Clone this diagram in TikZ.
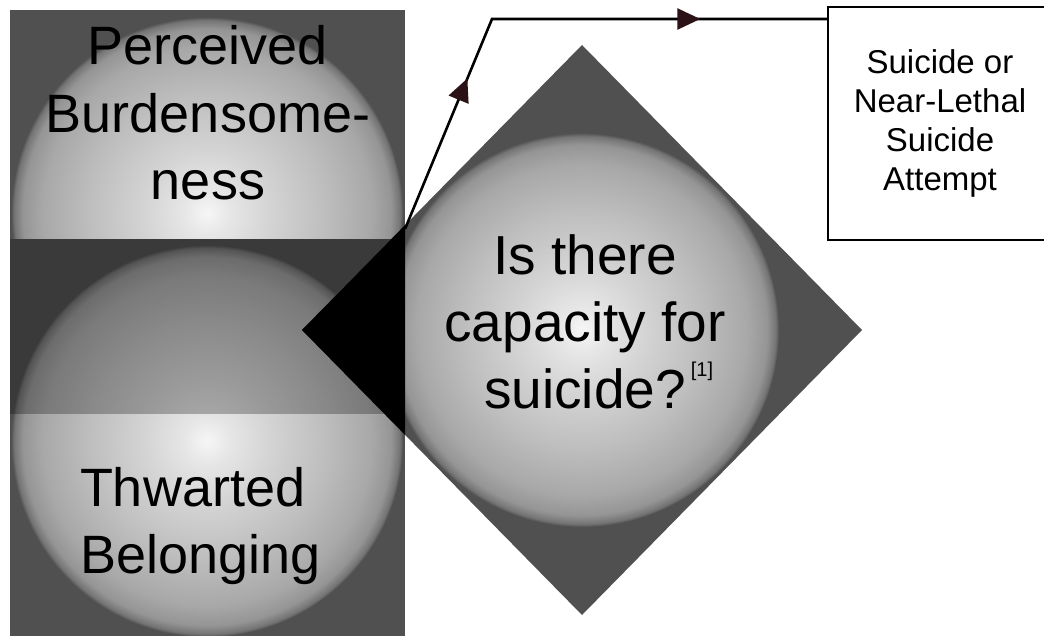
\documentclass[tikz,border=0pt]{standalone}
\usepackage{fontspec}
\setmainfont{Liberation Sans}
\usetikzlibrary{shapes.geometric,decorations.markings,arrows.meta}
\definecolor{dgray}{HTML}{505050}
\definecolor{sa}{HTML}{F6F6F6}
\definecolor{sb}{HTML}{E6E6E6}
\definecolor{sc}{HTML}{D4D4D4}
\definecolor{sd}{HTML}{BEBEBE}
\definecolor{se}{HTML}{A8A8A8}
\definecolor{sf}{HTML}{959595}
\definecolor{sg}{HTML}{747474}
\definecolor{tipcol}{HTML}{2A1216}
\pgfdeclareradialshading{ball}{\pgfpoint{0bp}{0bp}}{color(0bp)=(sa); color(3bp)=(sb); color(8bp)=(sc); color(15bp)=(sd); color(21bp)=(se); color(23.5bp)=(sf); color(24.6bp)=(sg); color(25bp)=(dgray); color(50bp)=(dgray)}
\tikzset{
  panel/.style={fill=dgray, draw=none},
  sphere/.style={shading=ball},
  bigtext/.style={font=\fontsize{54}{67.5}\selectfont, inner sep=0pt, outer sep=0pt},
  qtext/.style={font=\fontsize{55}{67}\selectfont, inner sep=0pt, align=center},
  outbox/.style={draw=black, line width=2.5pt, fill=white, minimum width=224pt, minimum height=233pt, inner sep=0pt, align=center, font=\fontsize{33}{39}\selectfont},
  flow/.style={line width=2.6pt, line join=miter,
    postaction={decorate, decoration={markings,
      mark=at position 0.29 with {\arrow{Triangle[length=23pt,width=21pt,fill=tipcol,color=tipcol]}},
      mark=at position 0.775 with {\arrow{Triangle[length=23pt,width=21pt,fill=tipcol,color=tipcol]}}}}}
}
\begin{document}
\begin{tikzpicture}[x=1pt,y=-1pt]
\useasboundingbox (0,0) rectangle (1044,636);
% top panel
\fill[panel] (10,10) rectangle (405,414);
\begin{scope}
\clip (10,10) rectangle (405,414);
\shade[sphere] (207,213) circle[radius=196pt];
\end{scope}
% bottom panel
\fill[panel] (10,239) rectangle (405,660);
\begin{scope}
\clip (10,239) rectangle (405,660);
\shade[sphere] (207,441) circle[radius=196pt];
\end{scope}
% overlap darkening
\fill[black, opacity=0.27] (10,239) rectangle (405,414);
% diamond
\node[diamond, minimum width=560pt, minimum height=570pt, inner sep=0pt, outer sep=0pt, fill=dgray] (cap) at (582,330) {};
\begin{scope}
\clip (cap.west) -- (cap.north) -- (cap.east) -- (cap.south) -- cycle;
\shade[sphere] (582,330) circle[radius=197pt];
\end{scope}
\begin{scope}
\clip (10,0) rectangle (405,660);
\fill[black] (cap.west) -- (cap.north) -- (cap.east) -- (cap.south) -- cycle;
\end{scope}
% output box
\node[outbox] (out) at (940,123.5) {Suicide or\\Near-Lethal\\Suicide\\Attempt};
% connector
\coordinate (start) at (405,229);
\coordinate (bend) at (492,19);
\draw[flow] (start) -- (bend) -- (bend -| out.west);
% texts
\node[bigtext, align=center] (pb) at (208,113) {Perceived\\Burdensome-\\ness};
\node[bigtext, align=left, anchor=west] (tb) at (80,526) {Thwarted\\Belonging};
\node[qtext] (q) at (585,322) {Is there\\capacity for\\suicide?\rlap{\hspace{5pt}\raisebox{32pt}{\fontsize{20}{20}\selectfont[1]}}};
\end{tikzpicture}
\end{document}
